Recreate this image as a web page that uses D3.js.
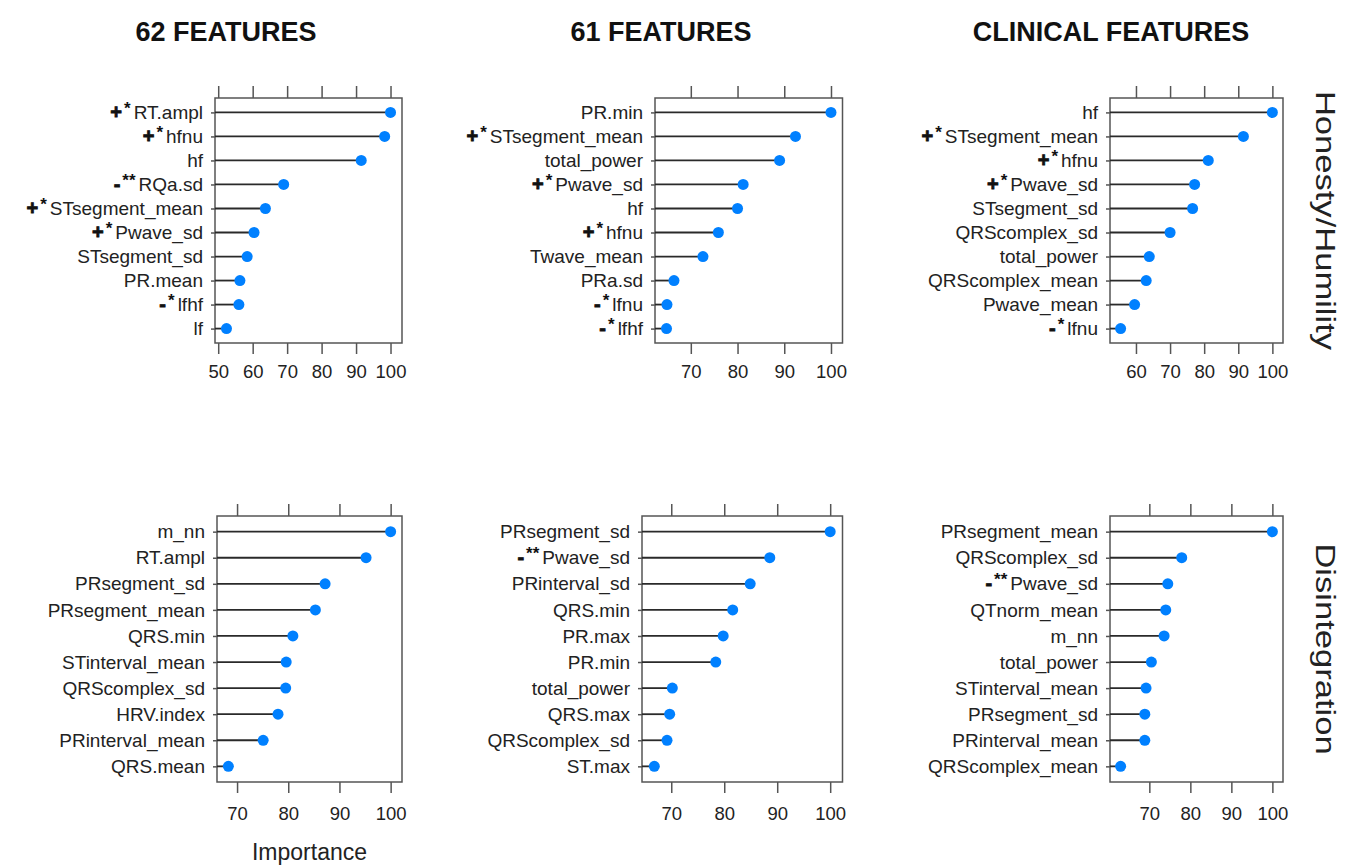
<!DOCTYPE html>
<html><head><meta charset="utf-8">
<script src="https://cdn.jsdelivr.net/npm/d3@7"></script>
<style>body{margin:0;background:#fff}svg{font-family:"Liberation Sans",Arial,sans-serif}</style>
</head><body><svg id="c" width="1359" height="865"></svg>
<script>
// ---- data ----
const columnTitles = ["62 FEATURES", "61 FEATURES", "CLINICAL FEATURES"];
const rowTitles = ["Honesty/Humility", "Disintegration"];
const axisTitle = "Importance";

const hh62Features = ["RT.ampl","hfnu","hf","RQa.sd","STsegment_mean","Pwave_sd","STsegment_sd","PR.mean","lfhf","lf"];
const hh62Marks    = ["+*","+*","","-**","+*","+*","","","-*",""];
const hh62Values   = [100,98.3,91.5,69.0,63.7,60.4,58.4,56.3,56.0,52.4];

const hh61Features = ["PR.min","STsegment_mean","total_power","Pwave_sd","hf","hfnu","Twave_mean","PRa.sd","lfnu","lfhf"];
const hh61Marks    = ["","+*","","+*","","+*","","","-*","-*"];
const hh61Values   = [100,92.4,89.0,81.2,80.0,75.9,72.6,66.4,64.9,64.8];

const hhClinFeatures = ["hf","STsegment_mean","hfnu","Pwave_sd","STsegment_sd","QRScomplex_sd","total_power","QRScomplex_mean","Pwave_mean","lfnu"];
const hhClinMarks    = ["","+*","+*","+*","","","","","","-*"];
const hhClinValues   = [100,91.5,81.2,77.2,76.6,70.0,63.9,63.0,59.6,55.5];

const dis62Features = ["m_nn","RT.ampl","PRsegment_sd","PRsegment_mean","QRS.min","STinterval_mean","QRScomplex_sd","HRV.index","PRinterval_mean","QRS.mean"];
const dis62Marks    = ["","","","","","","","","",""];
const dis62Values   = [100,95.2,87.2,85.3,80.9,79.6,79.5,78.0,75.1,68.3];

const dis61Features = ["PRsegment_sd","Pwave_sd","PRinterval_sd","QRS.min","PR.max","PR.min","total_power","QRS.max","QRScomplex_sd","ST.max"];
const dis61Marks    = ["","-**","","","","","","","",""];
const dis61Values   = [100,88.6,84.9,81.6,79.8,78.4,70.2,69.7,69.2,66.8];

const disClinFeatures = ["PRsegment_mean","QRScomplex_sd","Pwave_sd","QTnorm_mean","m_nn","total_power","STinterval_mean","PRsegment_sd","PRinterval_mean","QRScomplex_mean"];
const disClinMarks    = ["","","-**","","","","","","",""];
const disClinValues   = [100,77.9,74.5,74.0,73.6,70.5,69.2,68.9,68.9,63.0];

// ---- layout ----
const panels = [
  {row:0,col:0,f:hh62Features,m:hh62Marks,v:hh62Values},
  {row:0,col:1,f:hh61Features,m:hh61Marks,v:hh61Values},
  {row:0,col:2,f:hhClinFeatures,m:hhClinMarks,v:hhClinValues},
  {row:1,col:0,f:dis62Features,m:dis62Marks,v:dis62Values},
  {row:1,col:1,f:dis61Features,m:dis61Marks,v:dis61Values},
  {row:1,col:2,f:disClinFeatures,m:disClinMarks,v:disClinValues}
];
const colTitleX = [226, 661, 1111];
const boxLeft = [[215, 655, 1110], [217, 642, 1110]];
const boxRight = [402, 842.5, 1283];
const boxTop = [98, 516], boxBottom = [343, 782];
const tickLabelOff = [35, 38];
const stripX = 1325;

const svg = d3.select("#c");
const ink = "#222", frame = "#555", seg = "#2a2a2a", dot = "#0080ff";

columnTitles.forEach((t, i) => {
  svg.append("text").attr("x", colTitleX[i]).attr("y", 41)
    .attr("text-anchor", "middle").attr("font-size", 27).attr("font-weight", "bold")
    .attr("fill", "#111").text(t);
});

rowTitles.forEach((t, r) => {
  const cy = (boxTop[r] + boxBottom[r]) / 2;
  svg.append("text")
    .attr("transform", `translate(${stripX},${cy}) rotate(90) scale(1.28,1)`)
    .attr("text-anchor", "middle").attr("dy", "0.35em")
    .attr("font-size", 27).attr("fill", ink).text(t);
});

panels.forEach(p => {
  const L = boxLeft[p.row][p.col], R = boxRight[p.col], T = boxTop[p.row], B = boxBottom[p.row];
  const [lo, hi] = d3.extent(p.v);
  const pad = (hi - lo) * 0.07;
  const x = d3.scaleLinear().domain([lo - pad, hi + pad]).range([L, R]);
  const y = d3.scalePoint().domain(p.f).range([T, B]).padding(0.6);
  const g = svg.append("g");
  const ticks = x.ticks(5);

  // bottom axis
  const ab = g.append("g").attr("transform", `translate(0,${B})`)
    .call(d3.axisBottom(x).tickValues(ticks).tickSize(11).tickSizeOuter(0));
  ab.select(".domain").remove();
  ab.selectAll("line").attr("stroke", frame).attr("stroke-width", 1.5);
  ab.selectAll("text").attr("y", tickLabelOff[p.row]).attr("dy", 0)
    .attr("font-size", 18.5).attr("fill", ink).attr("font-family", null);
  // top axis
  const at = g.append("g").attr("transform", `translate(0,${T})`)
    .call(d3.axisTop(x).tickValues(ticks).tickSize(12).tickSizeOuter(0).tickFormat(""));
  at.select(".domain").remove();
  at.selectAll("line").attr("stroke", frame).attr("stroke-width", 1.5);
  // left ticks
  const al = g.append("g").attr("transform", `translate(${L},0)`)
    .call(d3.axisLeft(y).tickSize(4).tickSizeOuter(0).tickFormat(""));
  al.select(".domain").remove();
  al.selectAll("line").attr("stroke", frame).attr("stroke-width", 1.5);

  // box
  g.append("rect").attr("x", L).attr("y", T).attr("width", R - L).attr("height", B - T)
    .attr("fill", "none").attr("stroke", frame).attr("stroke-width", 1.5);

  const rows = p.f.map((f, i) => ({f, m: p.m[i], v: p.v[i]}));
  // segments
  g.selectAll("line.seg").data(rows).join("line").attr("class", "seg")
    .attr("x1", L).attr("x2", d => x(d.v)).attr("y1", d => y(d.f)).attr("y2", d => y(d.f))
    .attr("stroke", seg).attr("stroke-width", 1.8);
  // points
  g.selectAll("circle").data(rows).join("circle")
    .attr("cx", d => x(d.v)).attr("cy", d => y(d.f)).attr("r", 5.5).attr("fill", dot);
  // labels
  const lab = g.selectAll("text.lab").data(rows).join("text").attr("class", "lab")
    .attr("x", L - 12).attr("y", d => y(d.f)).attr("dy", "0.35em")
    .attr("text-anchor", "end").attr("font-size", 19).attr("fill", ink);
  lab.each(function(d) {
    const t = d3.select(this);
    if (d.m) {
      t.append("tspan").attr("font-weight", "bold").attr("font-size", 20)
        .attr("stroke", "#111").attr("stroke-width", 0.8).attr("fill", "#111").text(d.m[0]);
      t.append("tspan").attr("font-size", 17).attr("font-weight", "bold").attr("fill", "#111")
        .attr("dy", -5).attr("dx", 2).text(d.m.slice(1));
      t.append("tspan").attr("dy", 5).attr("dx", 3).text(d.f);
    } else {
      t.text(d.f);
    }
  });
});

// x-axis title under first column
svg.append("text").attr("x", (boxLeft[1][0] + boxRight[0]) / 2).attr("y", 860)
  .attr("text-anchor", "middle").attr("font-size", 23).attr("fill", ink).text(axisTitle);
</script>
</body></html>
